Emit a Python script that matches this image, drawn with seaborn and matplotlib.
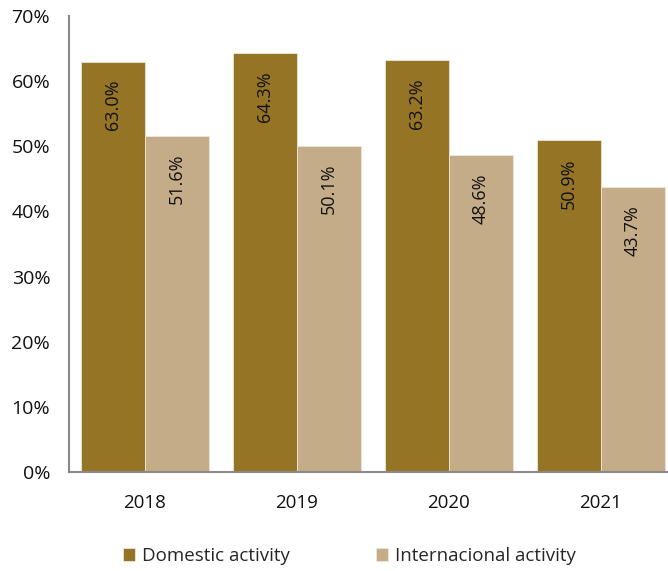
import matplotlib
matplotlib.use("Agg")
import matplotlib.pyplot as plt
from matplotlib.ticker import FixedLocator, PercentFormatter
import seaborn as sns
import pandas as pd

years = ["2018", "2019", "2020", "2021"]
domestic = [63.0, 64.3, 63.2, 50.9]
international = [51.6, 50.1, 48.6, 43.7]
series_names = ["Domestic activity", "Internacional activity"]
colors = ["#957525", "#C4AC88"]

df = pd.DataFrame({
    "year": years * 2,
    "value": domestic + international,
    "series": [series_names[0]] * len(years) + [series_names[1]] * len(years),
})

sns.set_theme(style="white")
plt.rcParams["font.family"] = ["Open Sans", "DejaVu Sans"]

fig = plt.figure(figsize=(6.68, 5.71), dpi=100)
ax = fig.add_axes([69 / 668, 99 / 571, 608 / 668, 456 / 571])

sns.barplot(data=df, x="year", y="value", hue="series", palette=colors,
            width=0.84, gap=0, edgecolor="#EFE8DA", linewidth=0.6,
            saturation=1, ax=ax, legend=True)

for cont in ax.containers:
    for bar in cont:
        h = bar.get_height()
        ax.annotate(f"{h:.1f}%", (bar.get_x() + bar.get_width() / 2, h),
                    xytext=(0, -13), textcoords="offset points",
                    rotation=90, ha="center", va="top", fontsize=13,
                    color="#111111")

ax.set_xlim(-0.5, 3.5)
ax.set_ylim(0, 70)
ax.set_yticks(range(0, 71, 10))
ax.yaxis.set_major_formatter(PercentFormatter(decimals=0))
ax.set_xlabel("")
ax.set_ylabel("")

# category ticks without marks, boundary marks between groups
ax.tick_params(axis="x", which="major", length=0, labelsize=13.5, pad=15.5, colors="#111111")
ax.xaxis.set_minor_locator(FixedLocator([-0.5, 0.5, 1.5, 2.5, 3.5]))
ax.tick_params(axis="x", which="minor", length=6, width=1.5, color="#898989", direction="out")
ax.tick_params(axis="y", length=6, width=1.5, color="#898989", direction="out",
               labelsize=14, pad=7.5, labelcolor="#111111")

for side in ["top", "right"]:
    ax.spines[side].set_visible(False)
for side in ["left", "bottom"]:
    ax.spines[side].set_color("#898989")
    ax.spines[side].set_linewidth(1.5)

handles, labels = ax.get_legend_handles_labels()
ax.get_legend().remove()
fig.legend(handles, labels, loc="center", bbox_to_anchor=(0.523, 0.026), ncol=2,
           frameon=False, fontsize=13.5, handlelength=0.65, handleheight=0.65,
           handletextpad=0.35, columnspacing=4.6)

fig.savefig("out.png", dpi=100)
